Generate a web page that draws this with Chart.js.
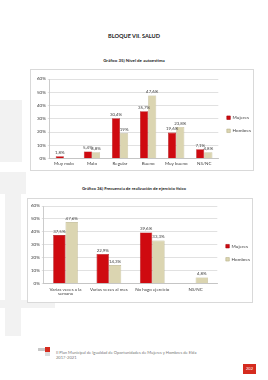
<!DOCTYPE html>
<html>
<head>
<meta charset="utf-8">
<script src="https://cdn.jsdelivr.net/npm/chart.js@4/dist/chart.umd.min.js"></script>
<style>
  body { margin: 0; background: #fff; font-family: Lato, "Open Sans", sans-serif; }
  #page { position: relative; width: 268px; height: 380px; overflow: hidden; background: #fff; }
  .deco { position: absolute; background: #f2f2f2; }
  .txt { position: absolute; white-space: nowrap; color: #222; }
  .box { position: absolute; border: 1px solid #d9d9d9; background: #fff; }
  .box canvas { display: block; }
</style>
</head>
<body>
<div id="page">
  <!-- light grey watermark shapes behind the page -->
  <div class="deco" style="left:0;top:100px;width:22px;height:62px;"></div>
  <div class="deco" style="left:0;top:172px;width:26px;height:22px;"></div>
  <div class="deco" style="left:5px;top:194px;width:16px;height:142px;"></div>
  <div class="deco" style="left:0;top:300px;width:55px;height:8px;"></div>

  <div class="txt" style="left:0;width:268px;top:32px;text-align:center;font-size:5.6px;font-weight:bold;">BLOQUE VII. SALUD</div>
  <div class="txt" style="left:0;width:268px;top:58px;text-align:center;font-size:4.4px;font-weight:bold;">Gráfico 35) Nivel de autoestima</div>
  <div class="box" style="left:30px;top:69px;width:222px;height:100px;"><canvas id="chart1" width="222" height="100"></canvas></div>

  <div class="txt" style="left:0;width:268px;top:186px;text-align:center;font-size:4.3px;font-weight:bold;">Gráfico 36) Frecuencia de realización de ejercicio físico</div>
  <div class="box" style="left:27px;top:198px;width:224px;height:103px;"><canvas id="chart2" width="224" height="103"></canvas></div>

  <!-- footer -->
  <div class="deco" style="left:38px;top:348px;width:7px;height:3px;background:#c8c8c8;"></div>
  <div class="deco" style="left:45px;top:347px;width:5px;height:5px;background:#d52b1e;"></div>
  <div class="deco" style="left:45px;top:352px;width:5px;height:4px;background:#dcdcdc;"></div>
  <div class="txt" style="left:56px;top:350px;font-size:4.1px;color:#777;">II Plan Municipal de Igualdad de Oportunidades de Mujeres y Hombres de Elda</div>
  <div class="txt" style="left:56px;top:355px;font-size:4.1px;color:#777;">2017-2021</div>
  <div class="txt" style="left:243px;top:364px;width:13px;height:10px;background:#d52b1e;color:#fff;font-size:4px;line-height:10px;text-align:center;">202</div>
</div>

<script>
// Gráfico 35) Nivel de autoestima
const categories1 = ['Muy malo', 'Malo', 'Regular', 'Bueno', 'Muy bueno', 'NS/NC'];
const mujeres1 = [1.8, 5.4, 30.4, 35.7, 19.6, 7.1];
const hombres1 = [0, 4.8, 19, 47.6, 23.8, 4.8];
const mujeres1Text = ['1,8%', '5,4%', '30,4%', '35,7%', '19,6%', '7,1%'];
const hombres1Text = ['', '4,8%', '19%', '47,6%', '23,8%', '4,8%'];

// Gráfico 36) Frecuencia de realización de ejercicio físico
const categories2 = [['Varias veces a la', 'semana'], 'Varias veces al mes', 'No hago ejercicio', 'NS/NC'];
const mujeres2 = [37.5, 22.9, 39.6, 0];
const hombres2 = [47.6, 14.3, 33.3, 4.8];
const mujeres2Text = ['37,5%', '22,9%', '39,6%', ''];
const hombres2Text = ['47,6%', '14,3%', '33,3%', '4,8%'];

const yTicks = { min: 0, max: 60, step: 10 };

const FONT = 'Lato';
const TEXT_COLOR = '#404040';

// draws the value text on top of each bar
const valueLabels = {
    id: 'valueLabels',
    afterDatasetsDraw(chart) {
        const ctx = chart.ctx;
        ctx.save();
        ctx.font = '4.4px ' + FONT;
        ctx.fillStyle = TEXT_COLOR;
        ctx.textAlign = 'center';
        ctx.textBaseline = 'bottom';
        chart.data.datasets.forEach((ds, i) => {
            const meta = chart.getDatasetMeta(i);
            meta.data.forEach((bar, j) => {
                const txt = ds.valueText[j];
                if (!txt) return;
                ctx.fillText(txt, bar.x, bar.y - 1.5);
            });
        });
        ctx.restore();
    }
};

// legend sits closer to the plot than chart.js would put it
function legendShift(px) {
    return {
        id: 'legendShift',
        beforeInit(chart) {
            const origFit = chart.legend.fit;
            chart.legend.fit = function () {
                origFit.call(this);
                this.width -= px;
            };
        }
    };
}

function makeChart(id, labels, muj, hom, mujText, homText, padding, catPct, shift) {
    return new Chart(document.getElementById(id).getContext('2d'), {
        type: 'bar',
        data: {
            labels: labels,
            datasets: [{
                label: 'Mujeres',
                data: muj,
                valueText: mujText,
                backgroundColor: '#cf0a10',
                borderColor: '#a30006',
                borderWidth: 0.6
            }, {
                label: 'Hombres',
                data: hom,
                valueText: homText,
                backgroundColor: '#dbd5b1',
                borderColor: '#b9b28a',
                borderWidth: 0.6
            }]
        },
        options: {
            responsive: false,
            animation: false,
            devicePixelRatio: 1,
            layout: { padding: padding },
            datasets: { bar: { categoryPercentage: catPct, barPercentage: 1 } },
            plugins: {
                tooltip: { enabled: false },
                legend: {
                    position: 'right',
                    labels: {
                        boxWidth: 3.5,
                        boxHeight: 3.5,
                        padding: 8.5,
                        color: TEXT_COLOR,
                        font: { family: FONT, size: 4.6 }
                    }
                }
            },
            scales: {
                x: {
                    grid: { display: false, drawTicks: false },
                    border: { color: '#bfbfbf', width: 0.8 },
                    ticks: {
                        color: TEXT_COLOR,
                        padding: 3,
                        maxRotation: 0,
                        autoSkip: false,
                        font: { family: FONT, size: 4.5, lineHeight: 1.1 }
                    }
                },
                y: {
                    min: yTicks.min,
                    max: yTicks.max,
                    grid: { color: '#d9d9d9', lineWidth: 0.8, tickLength: 2 },
                    border: { color: '#bfbfbf', width: 0.8 },
                    ticks: {
                        stepSize: yTicks.step,
                        color: TEXT_COLOR,
                        padding: 2,
                        font: { family: FONT, size: 4.5 },
                        callback: v => v + '%'
                    }
                }
            }
        },
        plugins: [valueLabels, legendShift(shift)]
    });
}

makeChart('chart1', categories1, mujeres1, hombres1, mujeres1Text, hombres1Text,
    { left: 4, right: 2, top: 9, bottom: 0.5 }, 0.58, 10);
makeChart('chart2', categories2, mujeres2, hombres2, mujeres2Text, hombres2Text,
    { left: 1, right: 2, top: 7, bottom: 2.5 }, 0.57, 10);
</script>
</body>
</html>
